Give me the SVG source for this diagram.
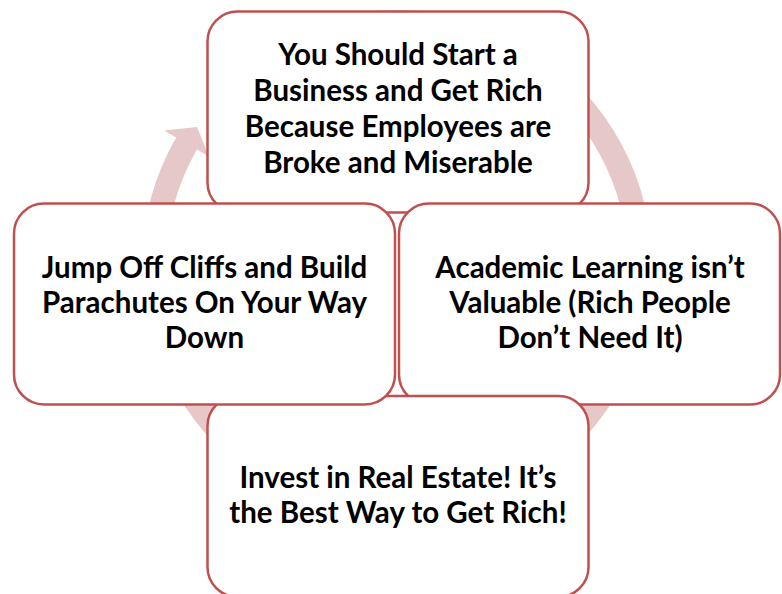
<svg xmlns="http://www.w3.org/2000/svg" width="782" height="594" viewBox="0 0 782 594">
<style>
.box{fill:#ffffff;stroke:#C0504D;stroke-width:2.5}
.t{font-family:Lato,"Open Sans","Liberation Sans",sans-serif;font-weight:bold;font-size:29.5px;fill:#000;text-anchor:middle}
.ring{fill:#E6C8C8;stroke:none}
</style>
<rect width="782" height="594" fill="#ffffff"/>
<g id="connectors">
<path class="ring" d="M 226.37 75.50 A 255 255 0 1 1 176.16 137.5 L 164.04 130.5 L 196.98 127.01 L 209.07 156.5 L 196.95 149.5 A 231 231 0 1 0 242.43 93.33 Z"/>
</g>
<g id="node-top">
<rect class="box" x="207.5" y="11.5" width="381" height="201" rx="30" ry="30"/>
<text class="t" x="398" y="65">You Should Start a</text>
<text class="t" x="398" y="101">Business and Get Rich</text>
<text class="t" x="398" y="137">Because Employees are</text>
<text class="t" x="398" y="173">Broke and Miserable</text>
</g>
<g id="node-right">
<rect class="box" x="399" y="203.5" width="381" height="201" rx="30" ry="30"/>
<text class="t" x="590" y="278">Academic Learning isn’t</text>
<text class="t" x="590" y="313">Valuable (Rich People</text>
<text class="t" x="590" y="348">Don’t Need It)</text>
</g>
<g id="node-bottom">
<rect class="box" x="207.5" y="396" width="381" height="201" rx="30" ry="30"/>
<text class="t" x="398" y="488">Invest in Real Estate! It’s</text>
<text class="t" x="398" y="523">the Best Way to Get Rich!</text>
</g>
<g id="node-left">
<rect class="box" x="14" y="203.5" width="381" height="201" rx="30" ry="30"/>
<text class="t" x="204.5" y="278">Jump Off Cliffs and Build</text>
<text class="t" x="204.5" y="313">Parachutes On Your Way</text>
<text class="t" x="204.5" y="348">Down</text>
</g>
</svg>
